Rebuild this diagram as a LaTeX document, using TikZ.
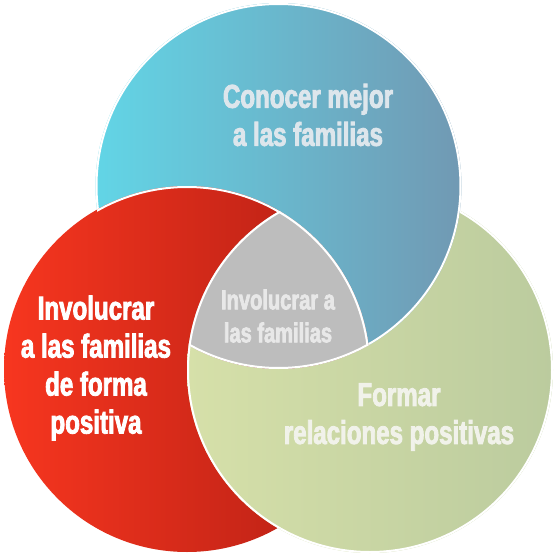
\documentclass[tikz,border=0pt]{standalone}
\usepackage{fontspec}
\setmainfont{Liberation Sans}[FakeStretch=0.73, FakeBold=2.5]
\usepackage{tikz}
\definecolor{azulA}{HTML}{62D5E6}
\definecolor{azulB}{HTML}{7199B3}
\definecolor{rojoA}{HTML}{F7361F}
\definecolor{rojoB}{HTML}{B21E14}
\definecolor{verdeA}{HTML}{D6E0A9}
\definecolor{verdeB}{HTML}{BBCB9E}
\definecolor{gris}{HTML}{BDBDBD}
\definecolor{textoAzul}{HTML}{DDE6EC}
\definecolor{textoGris}{HTML}{E8E8E8}
\definecolor{textoVerde}{HTML}{F1F2EA}
\def\rad{183}

\begin{document}
\begin{tikzpicture}[x=1pt, y=-1pt,
	borde/.style={draw=white, line width=4pt},
	rotulo/.style={font=\bfseries\fontsize{33pt}{38pt}\selectfont, align=center, inner sep=0pt},
	rotuloChico/.style={font=\bfseries\fontsize{27.5pt}{33pt}\selectfont, align=center, inner sep=0pt}]
		%%%%% START %%%%%
		
		\useasboundingbox (0, 0) rectangle (555, 554);
		
		\coordinate (conocer) at (278.5, 186);
		\coordinate (involucrar) at (187, 369);
		\coordinate (formar) at (370, 370);
		
		% verde
		\begin{scope}
			\clip (formar) circle (\rad);
			\shade[left color=verdeA, right color=verdeB] (formar) circle (\rad);
			\draw[borde] (formar) circle (\rad);
		\end{scope}
		
		% azul
		\begin{scope}
			\clip (conocer) circle (\rad);
			\shade[left color=azulA, right color=azulB] (conocer) circle (\rad);
			\draw[borde] (conocer) circle (\rad);
		\end{scope}
		
		% rojo
		\begin{scope}
			\clip (involucrar) circle (\rad);
			\shade[left color=rojoA, right color=rojoB] (involucrar) circle (\rad);
			\clip (conocer) circle (\rad);
			\draw[borde] (involucrar) circle (\rad);
		\end{scope}
		
		% verde sobre rojo
		\begin{scope}[even odd rule]
			\clip (involucrar) circle (\rad+1.5);
			\clip (formar) circle (\rad);
			\clip (0, 0) rectangle (555, 554) (conocer) circle (\rad);
			\shade[left color=verdeA, right color=verdeB] (formar) circle (\rad);
			\draw[borde] (formar) circle (\rad);
		\end{scope}
		
		% centro
		\begin{scope}
			\clip (involucrar) circle (\rad);
			\clip (formar) circle (\rad);
			\clip (conocer) circle (\rad);
			\fill[gris] (conocer) circle (\rad);
			\draw[borde] (conocer) circle (\rad);
			\draw[borde] (involucrar) circle (\rad);
			\draw[borde] (formar) circle (\rad);
		\end{scope}
		
		\node[rotulo, text=textoAzul] (tConocer) at (308, 115) {Conocer mejor\\a las familias};
		\node[rotulo, text=white] (tInvolucrar) at (96, 368) {Involucrar\\a las familias\\de forma\\positiva};
		\node[rotuloChico, text=textoGris] (tCentro) at (278, 316) {Involucrar a\\las familias};
		\node[rotulo, text=textoVerde] (tFormar) at (399, 417) {Formar\\relaciones positivas};
		
		%%%%% END %%%%%
	\end{tikzpicture}
\end{document}
